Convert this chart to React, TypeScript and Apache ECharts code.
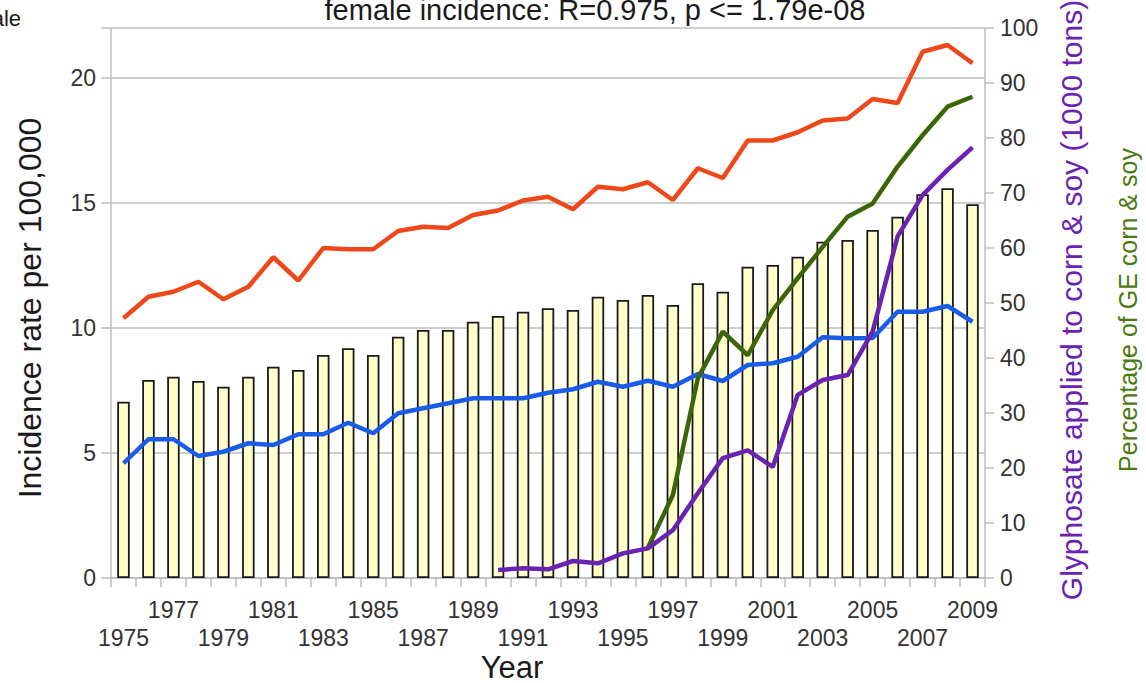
import React, { useEffect, useRef } from "react";
import * as echarts from "echarts";

const years = [
  "1975","1976","1977","1978","1979","1980","1981","1982","1983","1984",
  "1985","1986","1987","1988","1989","1990","1991","1992","1993","1994",
  "1995","1996","1997","1998","1999","2000","2001","2002","2003","2004",
  "2005","2006","2007","2008","2009",
];

const barValues = [
  7.05, 7.92, 8.05, 7.88, 7.65, 8.05, 8.45, 8.32, 8.92, 9.19,
  8.92, 9.65, 9.92, 9.92, 10.25, 10.48, 10.65, 10.79, 10.72, 11.25,
  11.12, 11.32, 10.92, 11.79, 11.45, 12.45, 12.52, 12.85, 13.45, 13.52,
  13.92, 14.45, 15.35, 15.59, 14.95,
];

const maleIncidence = [
  10.39, 11.25, 11.45, 11.85, 11.15, 11.65, 12.83, 11.9, 13.2, 13.15,
  13.15, 13.88, 14.05, 14.0, 14.52, 14.7, 15.1, 15.25, 14.75, 15.65,
  15.55, 15.83, 15.12, 16.39, 16.0, 17.5, 17.5, 17.83, 18.3, 18.38,
  19.16, 19.0, 21.05, 21.32, 20.59,
];

const femaleIncidence = [
  4.59, 5.55, 5.55, 4.88, 5.05, 5.39, 5.32, 5.75, 5.75, 6.21,
  5.79, 6.59, 6.79, 6.99, 7.19, 7.19, 7.19, 7.41, 7.55, 7.85,
  7.65, 7.89, 7.65, 8.16, 7.88, 8.52, 8.59, 8.85, 9.63, 9.59,
  9.6, 10.65, 10.65, 10.88, 10.25,
];

// 1990 - 2009
const glyphosateYears = [
  "1990","1991","1992","1993","1994","1995","1996","1997","1998","1999",
  "2000","2001","2002","2003","2004","2005","2006","2007","2008","2009",
];
const glyphosate = [
  1.45, 1.76, 1.58, 3.09, 2.67, 4.48, 5.39, 8.7, 15.4, 21.8,
  23.2, 20.2, 33.3, 36.0, 36.9, 44.8, 62.1, 69.6, 74.2, 78.3,
];

// 1996 - 2009
const geYears = [
  "1996","1997","1998","1999","2000","2001","2002","2003","2004","2005",
  "2006","2007","2008","2009",
];
const gePercent = [
  5.5, 15.1, 36.3, 44.8, 40.5, 48.7, 54.5, 60.2, 65.7, 68.1,
  74.8, 80.5, 85.7, 87.5,
];

const leftTicks = [0, 5, 10, 15, 20];

const FONT = "Liberation Sans, Arial, sans-serif";

function alignTo(srcYears: string[], vals: number[]) {
  return years.map((y) => {
    const i = srcYears.indexOf(y);
    return i >= 0 ? vals[i] : null;
  });
}

export default function App() {
  const ref = useRef<HTMLDivElement>(null);

  useEffect(() => {
    if (!ref.current) return;
    const chart = echarts.init(ref.current, undefined, { renderer: "svg" });
    const gray = "#bdbdbd";
    const option: any = {
      animation: false,
      backgroundColor: "#ffffff",
      grid: { left: 111, right: 161, top: 28, bottom: 105, containLabel: false },
      xAxis: {
        type: "category",
        data: years,
        boundaryGap: true,
        axisLine: { show: true, lineStyle: { color: gray, width: 1.5 } },
        axisTick: { show: true, length: 9, interval: 0, lineStyle: { color: gray, width: 1.5 } },
        axisLabel: {
          interval: 0,
          margin: 18,
          fontFamily: FONT,
          fontSize: 23,
          color: "#333333",
          lineHeight: 28,
          formatter: (v: string, idx: number) =>
            idx % 4 === 0 ? "\n" + v : idx % 4 === 2 ? v : "",
        },
        splitLine: { show: false },
      },
      yAxis: [
        {
          type: "value",
          min: 0,
          max: 22,
          interval: 5,
          position: "left",
          axisLine: { show: true, lineStyle: { color: gray, width: 1.5 } },
          axisTick: { show: true, length: 10, lineStyle: { color: gray, width: 1.5 } },
          axisLabel: {
            margin: 15,
            fontFamily: FONT,
            fontSize: 23,
            color: "#333333",
            formatter: (v: number) => (leftTicks.indexOf(v) >= 0 ? String(v) : ""),
          },
          splitLine: { show: true, lineStyle: { color: gray, width: 1.5 } },
        },
        {
          type: "value",
          min: 0,
          max: 100,
          interval: 10,
          position: "right",
          axisLine: { show: true, lineStyle: { color: gray, width: 1.5 } },
          axisTick: { show: true, length: 9, lineStyle: { color: gray, width: 1.5 } },
          axisLabel: {
            margin: 15,
            fontFamily: FONT,
            fontSize: 23,
            color: "#333333",
          },
          splitLine: { show: false },
        },
        {
          type: "value",
          min: 0,
          max: 100,
          show: false,
          position: "right",
          splitLine: { show: false },
        },
      ],
      series: [
        {
          name: "bars",
          type: "bar",
          yAxisIndex: 0,
          data: barValues,
          barWidth: "50%",
          itemStyle: { color: "#ffffcc", borderColor: "#1a1a1a", borderWidth: 1.8 },
          z: 1,
        },
        {
          name: "male incidence",
          type: "line",
          yAxisIndex: 0,
          data: maleIncidence,
          symbol: "none",
          lineStyle: { color: "#ee4719", width: 4.5 },
          itemStyle: { color: "#ee4719" },
          z: 3,
        },
        {
          name: "female incidence",
          type: "line",
          yAxisIndex: 0,
          data: femaleIncidence,
          symbol: "none",
          lineStyle: { color: "#1a5ce8", width: 4.5 },
          itemStyle: { color: "#1a5ce8" },
          z: 3,
        },
        {
          name: "Percentage of GE corn & soy",
          type: "line",
          yAxisIndex: 2,
          data: alignTo(geYears, gePercent),
          symbol: "none",
          connectNulls: false,
          lineStyle: { color: "#3b6608", width: 4.5 },
          itemStyle: { color: "#3b6608" },
          z: 4,
        },
        {
          name: "Glyphosate applied to corn & soy",
          type: "line",
          yAxisIndex: 1,
          data: alignTo(glyphosateYears, glyphosate),
          symbol: "none",
          connectNulls: false,
          lineStyle: { color: "#6a22b0", width: 4.5 },
          itemStyle: { color: "#6a22b0" },
          z: 4,
        },
      ],
      graphic: [
        {
          type: "text",
          x: 595,
          y: 10,
          style: {
            text: "female incidence: R=0.975, p <= 1.79e-08",
            fontFamily: FONT,
            fontSize: 29,
            fill: "#1a1a1a",
            align: "center",
            verticalAlign: "middle",
          },
        },
        {
          type: "text",
          x: 21,
          y: 18,
          style: {
            text: "ale",
            fontFamily: FONT,
            fontSize: 22,
            fill: "#1a1a1a",
            align: "right",
            verticalAlign: "middle",
          },
        },
        {
          type: "text",
          x: 30,
          y: 308,
          rotation: Math.PI / 2,
          style: {
            text: "Incidence rate per 100,000",
            fontFamily: FONT,
            fontSize: 32,
            fill: "#1a1a1a",
            align: "center",
            verticalAlign: "middle",
          },
        },
        {
          type: "text",
          x: 512,
          y: 667,
          style: {
            text: "Year",
            fontFamily: FONT,
            fontSize: 31,
            fill: "#1a1a1a",
            align: "center",
            verticalAlign: "middle",
          },
        },
        {
          type: "text",
          x: 1071,
          y: 300,
          rotation: Math.PI / 2,
          style: {
            text: "Glyphosate applied to corn & soy (1000 tons)",
            fontFamily: FONT,
            fontSize: 30,
            fill: "#6a22b0",
            align: "center",
            verticalAlign: "middle",
          },
        },
        {
          type: "text",
          x: 1128,
          y: 310,
          rotation: Math.PI / 2,
          style: {
            text: "Percentage of GE corn & soy",
            fontFamily: FONT,
            fontSize: 25,
            fill: "#4a7a10",
            align: "center",
            verticalAlign: "middle",
          },
        },
      ],
    };
    chart.setOption(option);
    return () => chart.dispose();
  }, []);

  return (
    <div
      ref={ref}
      style={{ position: "fixed", left: 0, top: 0, width: 1146, height: 683, background: "#fff" }}
    />
  );
}
